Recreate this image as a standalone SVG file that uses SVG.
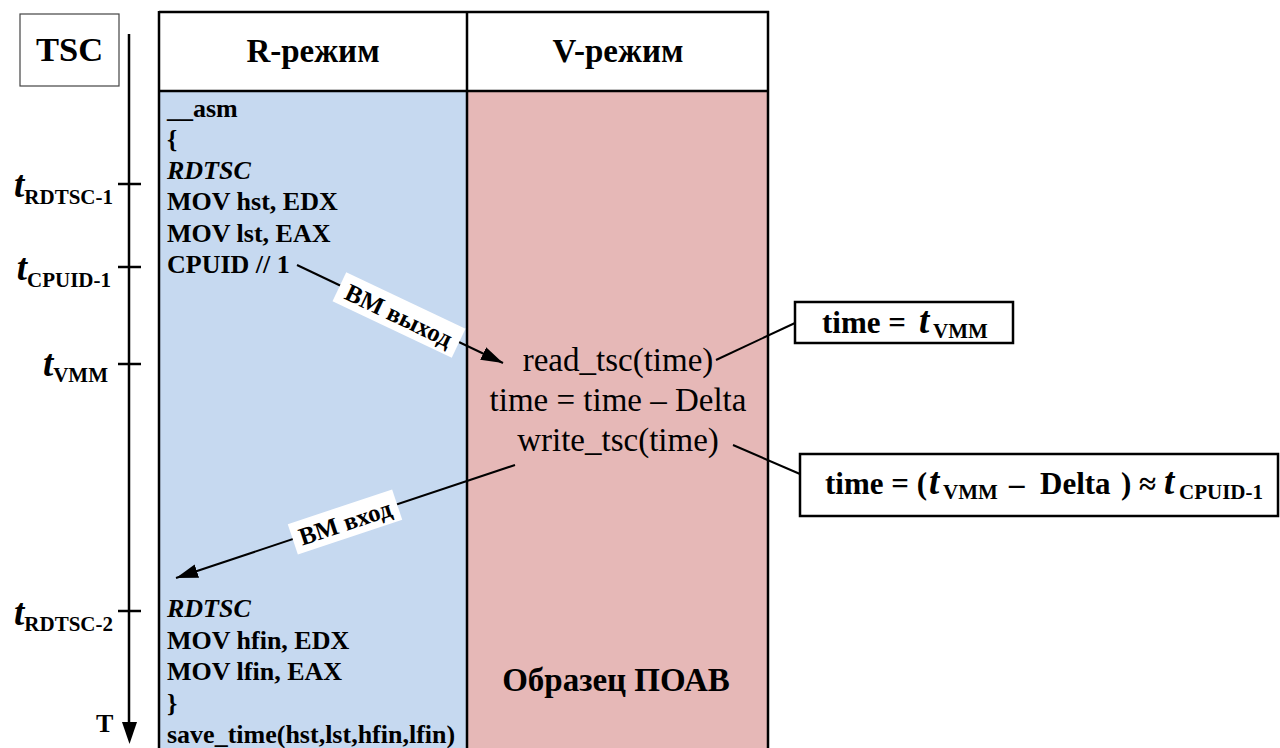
<svg xmlns="http://www.w3.org/2000/svg" width="1280" height="748" viewBox="0 0 1280 748">
<defs>
<marker id="arr" viewBox="0 0 22 14" refX="22" refY="7" markerWidth="22" markerHeight="14" markerUnits="userSpaceOnUse" orient="auto">
<path d="M0,0 L22,7 L0,14 Z" fill="#000"/>
</marker>
<style>
.b{font-family:"Liberation Serif","Times New Roman",serif;font-weight:bold;fill:#000}
.r{font-family:"Liberation Serif","Times New Roman",serif;font-weight:normal;fill:#000}
.code{font-size:26px}
.vt{font-size:33px;text-anchor:middle}
.ti{font-style:italic;font-size:37px}
.sub{font-size:21px;font-style:normal}
.hd{font-size:33px;text-anchor:middle}
.ln{stroke:#000;stroke-width:2.5;fill:none}
.thin{stroke:#000;stroke-width:2;fill:none}
.box{fill:#fff;stroke:#000;stroke-width:2.5}
.lbl{font-size:25px;text-anchor:middle}
</style>
</defs>
<rect width="1280" height="748" fill="#fff"/>

<g id="tsc">
<rect x="20" y="14" width="99" height="72" fill="#fff" stroke="#444" stroke-width="1.2"/>
<text class="b" x="69.5" y="61" font-size="34.5" text-anchor="middle">TSC</text>
</g>

<g id="axis">
<line class="ln" x1="129" y1="34" x2="129" y2="726"/>
<path d="M122,722 L137,722 L129.5,744 Z" fill="#000"/>
<line class="ln" x1="118" y1="184" x2="141" y2="184"/>
<line class="ln" x1="118" y1="267" x2="141" y2="267"/>
<line class="ln" x1="118" y1="364" x2="141" y2="364"/>
<line class="ln" x1="118" y1="611" x2="141" y2="611"/>
<text class="b" x="113" y="197" text-anchor="end"><tspan class="ti">t</tspan><tspan class="sub" dy="7">RDTSC-1</tspan></text>
<text class="b" x="111" y="280" text-anchor="end"><tspan class="ti">t</tspan><tspan class="sub" dy="7">CPUID-1</tspan></text>
<text class="b" x="108" y="376" text-anchor="end"><tspan class="ti">t</tspan><tspan class="sub" dy="6">VMM</tspan></text>
<text class="b" x="113" y="625" text-anchor="end"><tspan class="ti">t</tspan><tspan class="sub" dy="6">RDTSC-2</tspan></text>
<text class="b" x="96" y="732" font-size="26">T</text>
</g>

<g id="r-mode">
<rect x="160" y="92" width="307" height="656" fill="#C6D9F0"/>
<text class="b code" x="167" y="117">__asm</text>
<text class="b code" x="167" y="148">{</text>
<text class="b code" x="167" y="179" font-style="italic">RDTSC</text>
<text class="b code" x="167" y="210">MOV hst, EDX</text>
<text class="b code" x="167" y="242">MOV lst, EAX</text>
<text class="b code" x="167" y="273">CPUID // 1</text>
<text class="b code" x="167" y="617" font-style="italic">RDTSC</text>
<text class="b code" x="167" y="649">MOV hfin, EDX</text>
<text class="b code" x="167" y="680">MOV lfin, EAX</text>
<text class="b code" x="167" y="712">}</text>
<text class="b code" x="167" y="743">save_time(hst,lst,hfin,lfin)</text>
</g>

<g id="v-mode">
<rect x="467" y="92" width="301" height="656" fill="#E6B8B7"/>
<text class="r vt" x="618" y="371">read_tsc(time)</text>
<text class="r vt" x="618" y="411">time = time – Delta</text>
<text class="r vt" x="618" y="451">write_tsc(time)</text>
<text class="b" x="616" y="691" font-size="33" text-anchor="middle">Образец ПОАВ</text>
</g>

<g id="table-header">
<rect x="160" y="12.5" width="608" height="79" fill="#fff"/>
<text class="b hd" x="313" y="62">R-режим</text>
<text class="b hd" x="618" y="62">V-режим</text>
<line class="ln" x1="159" y1="12" x2="769" y2="12"/>
<line class="ln" x1="159" y1="91" x2="769" y2="91"/>
<line class="ln" x1="159" y1="11" x2="159" y2="748"/>
<line class="ln" x1="467" y1="11" x2="467" y2="748"/>
<line class="ln" x1="768" y1="11" x2="768" y2="748"/>
</g>

<g id="box-vmm">
<rect class="box" x="795" y="302" width="218" height="41"/>
<text class="b" x="822" y="333" font-size="31">time = <tspan class="ti" x="919">t</tspan><tspan class="sub" x="933" dy="5">VMM</tspan></text>
</g>

<g id="box-delta">
<rect class="box" x="800" y="454" width="478" height="62"/>
<text class="b" x="825" y="494" font-size="31">time = (<tspan class="ti" x="929">t</tspan><tspan class="sub" x="943" dy="5">VMM</tspan><tspan x="1009" dy="-5">–</tspan><tspan x="1040">Delta</tspan><tspan x="1121">)</tspan><tspan x="1139">≈</tspan><tspan class="ti" x="1164">t</tspan><tspan class="sub" x="1179" dy="5">CPUID-1</tspan></text>
</g>

<g id="connectors">
<line class="thin" x1="297" y1="265" x2="503" y2="363" marker-end="url(#arr)"/>
<line class="thin" x1="515" y1="465" x2="176" y2="578" marker-end="url(#arr)"/>
<line class="thin" x1="716" y1="360" x2="795" y2="323"/>
<line class="thin" x1="733" y1="445" x2="800" y2="474"/>
<g transform="translate(399,315) rotate(25.4)">
<rect x="-66" y="-16" width="132" height="32" fill="#fff"/>
<text class="b lbl" x="0" y="9">ВМ выход</text>
</g>
<g transform="translate(345,522) rotate(-18.4)">
<rect x="-55" y="-16" width="110" height="32" fill="#fff"/>
<text class="b lbl" x="0" y="9">ВМ вход</text>
</g>
</g>
</svg>
